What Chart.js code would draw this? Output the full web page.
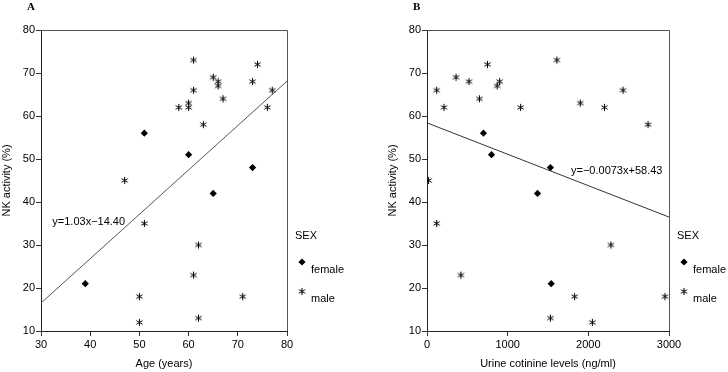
<!DOCTYPE html>
<html>
<head>
<meta charset="utf-8">
<script src="https://cdn.jsdelivr.net/npm/chart.js@4/dist/chart.umd.min.js"></script>
<style>
  body { margin: 0; background: #fff; }
  #wrap { position: relative; width: 728px; height: 372px; }
  .panel { position: absolute; top: 0; width: 364px; height: 372px; }
</style>
</head>
<body>
<div id="wrap">
  <div class="panel" style="left:0"><canvas id="chartA"></canvas></div>
  <div class="panel" style="left:364px"><canvas id="chartB"></canvas></div>
</div>
<script>
// panel A: age vs NK activity
const ageFemale = [39, 51, 60, 65, 73];
const nkFemaleA = [21, 56, 51, 42, 48];
const ageMale = [47, 50, 50, 51, 58, 60, 60, 61, 61, 61, 62, 62, 63, 65, 66, 66, 67, 71, 73, 74, 76, 77];
const nkMaleA = [45, 18, 12, 35, 62, 63, 62, 73, 66, 23, 30, 13, 58, 69, 68, 67, 64, 18, 68, 72, 62, 66];
const fitAx = [30, 80];
const fitAy = [16.5, 68.1];

// panel B: urine cotinine vs NK activity
const cotFemale = [700, 800, 1370, 1530, 1540];
const nkFemaleB = [56, 51, 42, 48, 21];
const cotMale = [20, 120, 120, 210, 360, 420, 520, 650, 750, 870, 900, 1160, 1530, 1610, 1830, 1900, 2050, 2200, 2280, 2430, 2740, 2950];
const nkMaleB = [45, 66, 35, 62, 69, 23, 68, 64, 72, 67, 68, 62, 13, 73, 18, 63, 12, 62, 30, 66, 58, 18];
const fitBx = [0, 3000];
const fitBy = [58.4, 36.5];

const yTicks = [10, 20, 30, 40, 50, 60, 70, 80];

const FONT = 'Liberation Sans, Arial, sans-serif';

// six-armed asterisk like the original
const star = document.createElement('canvas');
star.width = 9; star.height = 9;
(function () {
  const c = star.getContext('2d');
  c.strokeStyle = '#000';
  c.lineWidth = 1;
  c.beginPath();
  [90, 30, 150].forEach(a => {
    const r = a * Math.PI / 180;
    c.moveTo(4.5 - Math.cos(r) * 3.6, 4.5 - Math.sin(r) * 3.6);
    c.lineTo(4.5 + Math.cos(r) * 3.6, 4.5 + Math.sin(r) * 3.6);
  });
  c.stroke();
})();

function pts(xs, ys) {
  return xs.map((x, i) => ({ x: x, y: ys[i] }));
}

const panelPlugin = {
  id: 'panelExtras',
  afterDraw(chart, args, opts) {
    const ctx = chart.ctx;
    const a = chart.chartArea;
    ctx.save();
    // frame top / right
    ctx.strokeStyle = '#555';
    ctx.lineWidth = 1;
    ctx.beginPath();
    ctx.moveTo(a.left, a.top + 0.5);
    ctx.lineTo(a.right + 0.5, a.top + 0.5);
    ctx.lineTo(a.right + 0.5, a.bottom);
    ctx.stroke();

    // panel letter
    ctx.fillStyle = '#000';
    ctx.font = 'bold 11px Liberation Serif, serif';
    ctx.textBaseline = 'middle';
    ctx.textAlign = 'left';
    ctx.fillText(opts.letter, opts.letterX, 7);

    // equation
    ctx.font = '11px ' + FONT;
    const xs = chart.scales.x, ys = chart.scales.y;
    ctx.fillText(opts.eq, xs.getPixelForValue(opts.eqX), ys.getPixelForValue(opts.eqY));

    // legend
    const lx = a.right + 8;
    ctx.fillText('SEX', lx, 236);
    ctx.beginPath();
    ctx.moveTo(lx + 7, 258.4); ctx.lineTo(lx + 10.6, 262); ctx.lineTo(lx + 7, 265.6); ctx.lineTo(lx + 3.4, 262);
    ctx.closePath(); ctx.fill();
    ctx.fillText('female', lx + 16, 269.5);
    ctx.drawImage(star, lx + 2.5, 287);
    ctx.fillText('male', lx + 16, 299);
    ctx.restore();
  }
};

function makeChart(id, cfg) {
  const scaleFont = { family: FONT, size: 11 };
  return new Chart(document.getElementById(id), {
    type: 'scatter',
    data: {
      datasets: [
        {
          label: 'female',
          data: pts(cfg.fx, cfg.fy),
          pointStyle: 'rectRot',
          pointRadius: 3.6,
          backgroundColor: '#000',
          borderColor: '#000',
          borderWidth: 0
        },
        {
          label: 'male',
          data: pts(cfg.mx, cfg.my),
          pointStyle: star,
          pointRadius: 4
        },
        {
          label: 'fit',
          type: 'line',
          data: pts(cfg.lx, cfg.ly),
          borderColor: cfg.lineColor,
          borderWidth: 1,
          pointRadius: 0,
          fill: false
        }
      ]
    },
    options: {
      responsive: false,
      animation: false,
      devicePixelRatio: 1,
      layout: { padding: cfg.padding },
      plugins: {
        legend: { display: false },
        tooltip: { enabled: false },
        panelExtras: { letter: cfg.letter, letterX: cfg.letterX, eq: cfg.eq, eqX: cfg.eqX, eqY: cfg.eqY }
      },
      scales: {
        x: {
          type: 'linear',
          min: cfg.xMin,
          max: cfg.xMax,
          ticks: { stepSize: cfg.xStep, color: '#000', font: scaleFont, padding: 2, maxRotation: 0, callback: v => String(v) },
          grid: { drawOnChartArea: false, tickLength: 5, color: '#333' },
          border: { color: '#222', width: 1 },
          title: { display: true, text: cfg.xTitle, color: '#000', font: scaleFont, padding: { top: 4, bottom: 1 } },
          afterFit: s => { s.height = 41; }
        },
        y: {
          min: 10,
          max: 80,
          afterBuildTicks: s => { s.ticks = yTicks.map(v => ({ value: v })); },
          ticks: { color: '#000', font: scaleFont, padding: 1 },
          grid: { drawOnChartArea: false, tickLength: 5, color: '#333' },
          border: { color: '#222', width: 1 },
          title: { display: true, text: 'NK activity (%)', color: '#000', font: scaleFont, padding: { top: 0, bottom: 0 } },
          afterFit: s => { s.width = 41; }
        }
      }
    },
    plugins: [panelPlugin]
  });
}

document.getElementById('chartA').width = 364;
document.getElementById('chartA').height = 372;
document.getElementById('chartB').width = 364;
document.getElementById('chartB').height = 372;

makeChart('chartA', {
  fx: ageFemale, fy: nkFemaleA, mx: ageMale, my: nkMaleA, lx: fitAx, ly: fitAy,
  lineColor: '#555',
  xMin: 30, xMax: 80, xStep: 10, xTitle: 'Age (years)',
  padding: { left: 0, top: 30, right: 77, bottom: 0 },
  letter: 'A', letterX: 27,
  eq: 'y=1.03x\u221214.40', eqX: 32.3, eqY: 35.3
});

makeChart('chartB', {
  fx: cotFemale, fy: nkFemaleB, mx: cotMale, my: nkMaleB, lx: fitBx, ly: fitBy,
  lineColor: '#333',
  xMin: 0, xMax: 3000, xStep: 1000, xTitle: 'Urine cotinine levels (ng/ml)',
  padding: { left: 22, top: 30, right: 59, bottom: 0 },
  letter: 'B', letterX: 49,
  eq: 'y=\u22120.0073x+58.43', eqX: 1785, eqY: 47.2
});
</script>
</body>
</html>
